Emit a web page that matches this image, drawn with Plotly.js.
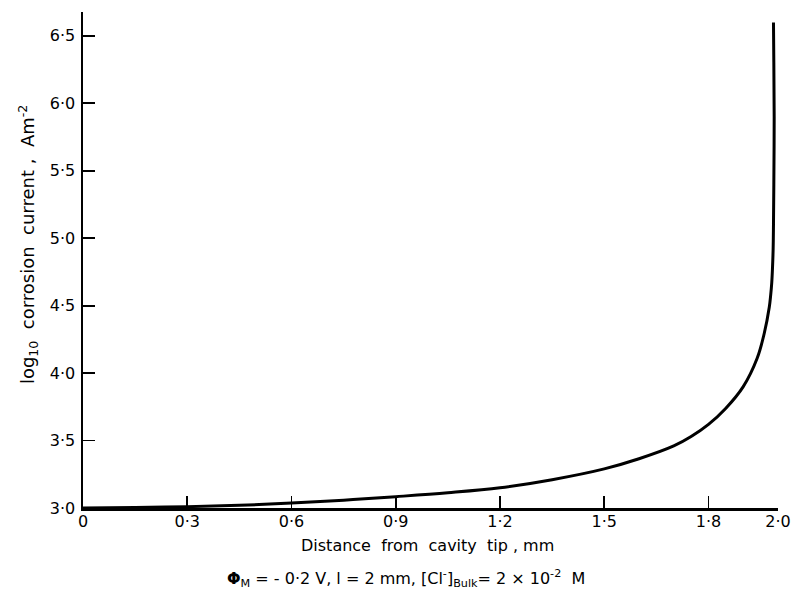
<!DOCTYPE html>
<html>
<head>
<meta charset="utf-8">
<script src="https://cdn.plot.ly/plotly-3.0.1.min.js"></script>
<style>
  html, body { margin: 0; padding: 0; background: #fff; }
  #chart { width: 793px; height: 601px; }
</style>
</head>
<body>
<div id="chart"></div>
<script>
// Distance from cavity tip (mm) and log10 corrosion current (A m^-2)
const distance = [0, 0.15, 0.3, 0.45, 0.6, 0.75, 0.9, 1.05, 1.2, 1.35, 1.5, 1.6, 1.7, 1.75, 1.8, 1.85, 1.9, 1.94, 1.96, 1.975, 1.979, 1.982, 1.984, 1.986, 1.987, 1.988, 1.989, 1.988, 1.987];
const logCurrent = [3.0, 3.003, 3.01, 3.02, 3.037, 3.058, 3.084, 3.113, 3.15, 3.21, 3.29, 3.365, 3.46, 3.53, 3.62, 3.74, 3.90, 4.11, 4.29, 4.49, 4.58, 4.67, 4.77, 4.92, 5.1, 5.4, 5.9, 6.3, 6.6];

const xTickVals = [0, 0.3, 0.6, 0.9, 1.2, 1.5, 1.8, 2.0];
const xTickText = ['0', '0·3', '0·6', '0·9', '1·2', '1·5', '1·8', '2·0'];
const yTickVals = [3.0, 3.5, 4.0, 4.5, 5.0, 5.5, 6.0, 6.5];
const yTickText = ['3·0', '3·5', '4·0', '4·5', '5·0', '5·5', '6·0', '6·5'];

const FONT = 'DejaVu Sans, Liberation Sans, sans-serif';

const trace = {
  x: distance,
  y: logCurrent,
  mode: 'lines',
  line: { color: '#000', width: 3, shape: 'spline', smoothing: 1.0 },
  hoverinfo: 'skip'
};

const axisStyle = {
  ticks: 'inside',
  ticklen: 12,
  tickwidth: 1.8,
  tickcolor: '#000',
  showline: true,
  linecolor: '#000',
  linewidth: 2.5,
  showgrid: false,
  zeroline: false,
  tickfont: { size: 16 },
  title: { text: '' }
};

const layout = {
  width: 793,
  height: 601,
  margin: { l: 83, r: 15, t: 12, b: 93 },
  paper_bgcolor: '#fff',
  plot_bgcolor: '#fff',
  showlegend: false,
  font: { family: FONT, color: '#000', size: 16 },
  xaxis: Object.assign({}, axisStyle, {
    range: [0, 2.0],
    tickvals: xTickVals,
    ticktext: xTickText,
    ticklabelstandoff: -3
  }),
  yaxis: Object.assign({}, axisStyle, {
    range: [3.0, 6.677],
    tickvals: yTickVals,
    ticktext: yTickText,
    ticklabelstandoff: 2
  }),
  annotations: [
    {
      text: 'Distance  from  cavity  tip , mm',
      xref: 'paper', yref: 'paper',
      x: 0.495, y: 0, yshift: -37,
      xanchor: 'center', yanchor: 'middle',
      showarrow: false,
      font: { size: 16 }
    },
    {
      text: 'log<sub>10</sub>  corrosion  current ,  Am<sup>-2</sup>',
      xref: 'paper', yref: 'paper',
      x: 0, xshift: -55, y: 0.53,
      xanchor: 'center', yanchor: 'middle',
      textangle: -90,
      showarrow: false,
      font: { size: 18 }
    },
    {
      text: '<b>Φ</b><sub>M</sub> = - 0·2 V, l = 2 mm, [Cl<sup>-</sup>]<sub>Bulk</sub>= 2 × 10<sup>-2</sup>  M',
      xref: 'paper', yref: 'paper',
      x: 0.465, y: 0, yshift: -70,
      xanchor: 'center', yanchor: 'middle',
      showarrow: false,
      font: { size: 16 }
    }
  ]
};

Plotly.newPlot('chart', [trace], layout, { staticPlot: true, displayModeBar: false });
</script>
</body>
</html>
